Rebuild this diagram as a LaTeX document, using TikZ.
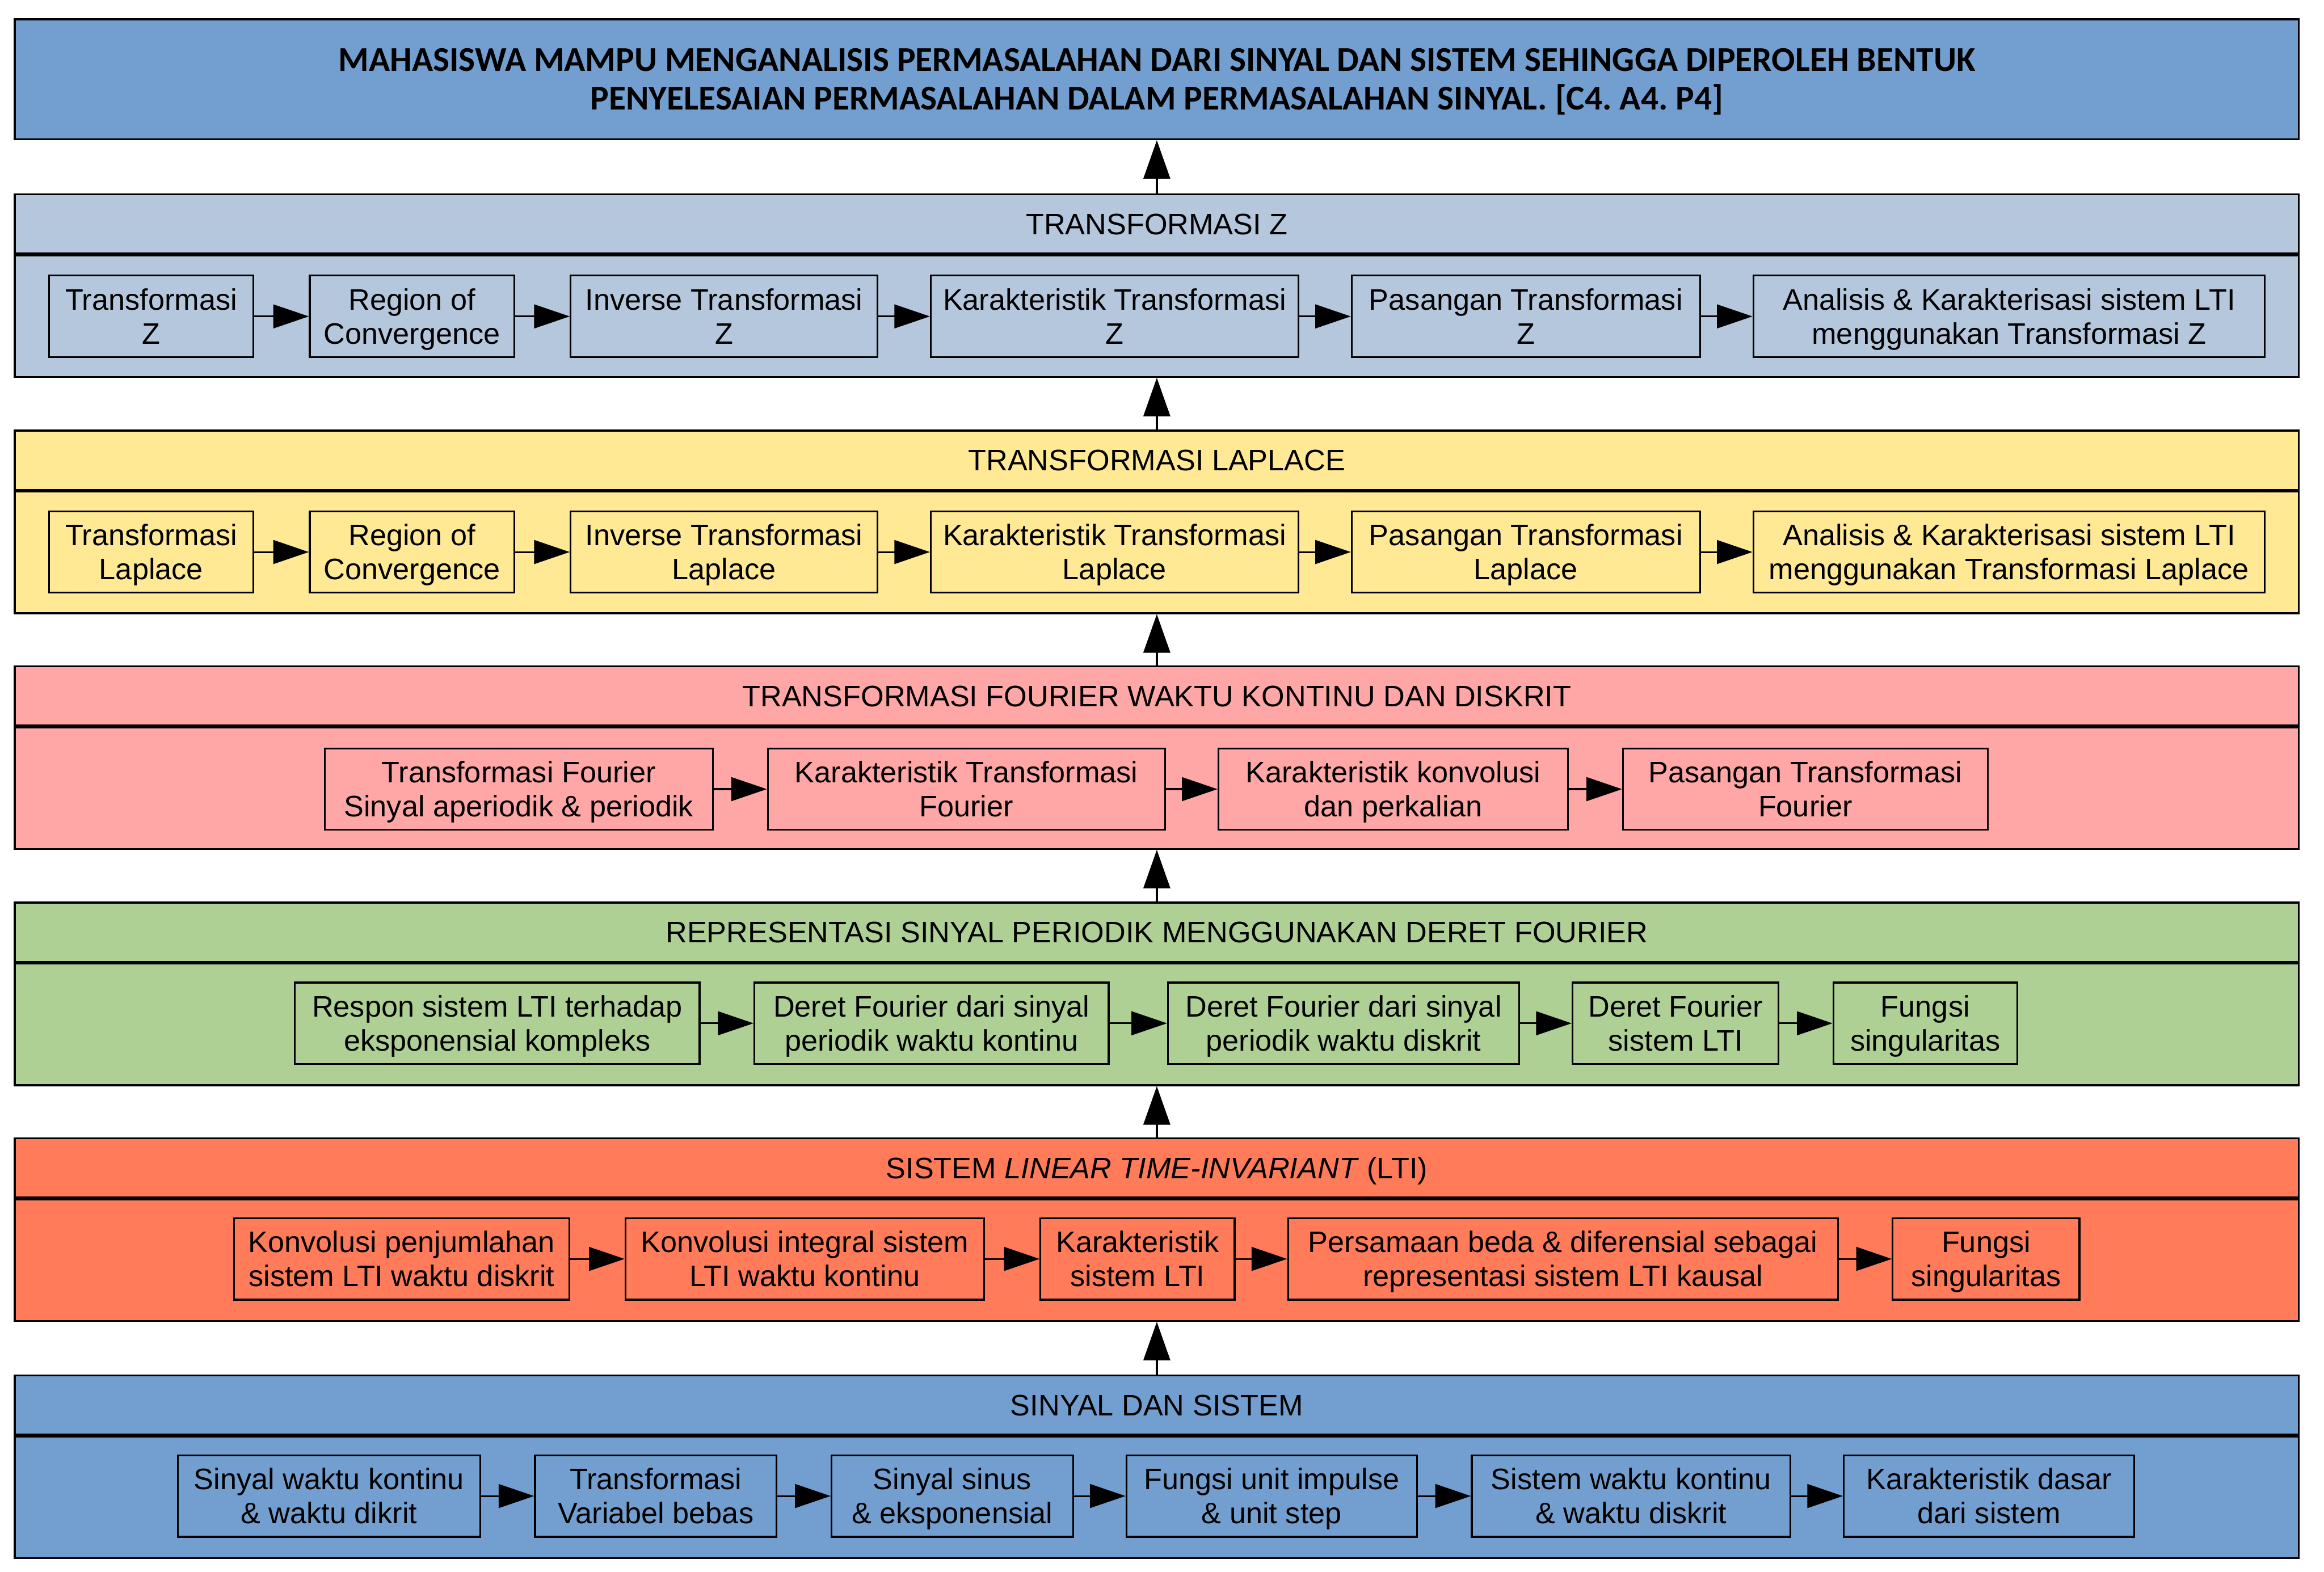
\documentclass[tikz,border=0pt]{standalone}
\usepackage{fontspec}
\setmainfont{Liberation Sans}
\newfontfamily\titlefont{Carlito}
\usetikzlibrary{arrows.meta}
\frenchspacing
\definecolor{cTitle}{HTML}{729FCF}
\definecolor{cZ}{HTML}{B4C7DC}
\definecolor{cL}{HTML}{FFE994}
\definecolor{cF}{HTML}{FFA6A6}
\definecolor{cG}{HTML}{AFD095}
\definecolor{cO}{HTML}{FF7B59}
\definecolor{cB}{HTML}{729FCF}
\tikzset{
  frame/.style={draw=black, line width=0.65pt, inner sep=0pt, minimum width=770.5pt},
  head/.style={frame, minimum height=20pt, text height=7.2pt, text depth=0pt, font=\fontsize{10}{11.5}\selectfont},
  body/.style={frame, minimum height=41pt},
  topic/.style={draw=black, line width=0.6pt, inner sep=0pt, minimum height=27.5pt, text height=18.7pt, text depth=0pt, align=center, font=\fontsize{10}{11.5}\selectfont},
  harrow/.style={line width=0.6pt, -{Triangle[length=12pt,width=8pt]}},
  varrow/.style={line width=0.65pt, -{Triangle[length=13pt,width=9pt]}}
}
\begin{document}
\begin{tikzpicture}[x=0.5pt,y=-0.5pt]
\useasboundingbox (0,0) rectangle (1568,1060.7);
% title
\node[frame, fill=cTitle, minimum height=40.5pt, align=center, text height=20.6pt, text depth=0pt, font=\titlefont\bfseries\fontsize{11.75}{13}\selectfont] (title) at (780.5,53.5)
  {MAHASISWA MAMPU MENGANALISIS PERMASALAHAN DARI SINYAL DAN SISTEM SEHINGGA DIPEROLEH BENTUK\\PENYELESAIAN PERMASALAHAN DALAM PERMASALAHAN SINYAL. [C4. A4. P4]};

% ---- Transformasi Z
\node[head, fill=cZ] (hZ) at (780.5,151) {TRANSFORMASI Z};
\node[body, fill=cZ, anchor=north] (bZ) at (hZ.south) {};
\node[topic, fill=cZ, minimum width=69pt] (z1) at (102,213.5) {Transformasi\\Z};
\node[topic, fill=cZ, minimum width=69pt] (z2) at (278,213.5) {Region of\\Convergence};
\node[topic, fill=cZ, minimum width=103.5pt] (z3) at (488.5,213.5) {Inverse Transformasi\\Z};
\node[topic, fill=cZ, minimum width=124pt] (z4) at (752,213.5) {Karakteristik Transformasi\\Z};
\node[topic, fill=cZ, minimum width=117.5pt] (z5) at (1029.5,213.5) {Pasangan Transformasi\\Z};
\node[topic, fill=cZ, minimum width=172.5pt] (z6) at (1355.5,213.5) {Analisis \& Karakterisasi sistem LTI\\menggunakan Transformasi Z};
\draw[harrow] (z1) -- (z2);
\draw[harrow] (z2) -- (z3);
\draw[harrow] (z3) -- (z4);
\draw[harrow] (z4) -- (z5);
\draw[harrow] (z5) -- (z6);

% ---- Transformasi Laplace
\node[head, fill=cL] (hL) at (780.5,310.5) {TRANSFORMASI LAPLACE};
\node[body, fill=cL, anchor=north] (bL) at (hL.south) {};
\node[topic, fill=cL, minimum width=69pt] (l1) at (102,372.5) {Transformasi\\Laplace};
\node[topic, fill=cL, minimum width=69pt] (l2) at (278,372.5) {Region of\\Convergence};
\node[topic, fill=cL, minimum width=103.5pt] (l3) at (488.5,372.5) {Inverse Transformasi\\Laplace};
\node[topic, fill=cL, minimum width=124pt] (l4) at (752,372.5) {Karakteristik Transformasi\\Laplace};
\node[topic, fill=cL, minimum width=117.5pt] (l5) at (1029.5,372.5) {Pasangan Transformasi\\Laplace};
\node[topic, fill=cL, minimum width=172.5pt] (l6) at (1355.5,372.5) {Analisis \& Karakterisasi sistem LTI\\menggunakan Transformasi Laplace};
\draw[harrow] (l1) -- (l2);
\draw[harrow] (l2) -- (l3);
\draw[harrow] (l3) -- (l4);
\draw[harrow] (l4) -- (l5);
\draw[harrow] (l5) -- (l6);

% ---- Transformasi Fourier
\node[head, fill=cF] (hF) at (780.5,469.5) {TRANSFORMASI FOURIER WAKTU KONTINU DAN DISKRIT};
\node[body, fill=cF, anchor=north] (bF) at (hF.south) {};
\node[topic, fill=cF, minimum width=131pt] (f1) at (350,532.5) {Transformasi Fourier\\Sinyal aperiodik \& periodik};
\node[topic, fill=cF, minimum width=134pt] (f2) at (652,532.5) {Karakteristik Transformasi\\Fourier};
\node[topic, fill=cF, minimum width=118pt] (f3) at (940,532.5) {Karakteristik konvolusi\\dan perkalian};
\node[topic, fill=cF, minimum width=123pt] (f4) at (1218,532.5) {Pasangan Transformasi\\Fourier};
\draw[harrow] (f1) -- (f2);
\draw[harrow] (f2) -- (f3);
\draw[harrow] (f3) -- (f4);

% ---- Deret Fourier
\node[head, fill=cG] (hG) at (780.5,629) {REPRESENTASI SINYAL PERIODIK MENGGUNAKAN DERET FOURIER};
\node[body, fill=cG, anchor=north] (bG) at (hG.south) {};
\node[topic, fill=cG, minimum width=136.5pt] (g1) at (335.5,690.5) {Respon sistem LTI terhadap\\eksponensial kompleks};
\node[topic, fill=cG, minimum width=119.5pt] (g2) at (628.5,690.5) {Deret Fourier dari sinyal\\periodik waktu kontinu};
\node[topic, fill=cG, minimum width=118.5pt] (g3) at (906.5,690.5) {Deret Fourier dari sinyal\\periodik waktu diskrit};
\node[topic, fill=cG, minimum width=69.5pt] (g4) at (1130.5,690.5) {Deret Fourier\\sistem LTI};
\node[topic, fill=cG, minimum width=62pt] (g5) at (1299,690.5) {Fungsi\\singularitas};
\draw[harrow] (g1) -- (g2);
\draw[harrow] (g2) -- (g3);
\draw[harrow] (g3) -- (g4);
\draw[harrow] (g4) -- (g5);

% ---- Sistem LTI
\node[head, fill=cO] (hO) at (780.5,788) {SISTEM \textit{LINEAR TIME-INVARIANT} (LTI)};
\node[body, fill=cO, anchor=north] (bO) at (hO.south) {};
\node[topic, fill=cO, minimum width=113pt] (o1) at (271,849.5) {Konvolusi penjumlahan\\sistem LTI waktu diskrit};
\node[topic, fill=cO, minimum width=121pt] (o2) at (543,849.5) {Konvolusi integral sistem\\LTI waktu kontinu};
\node[topic, fill=cO, minimum width=65.5pt] (o3) at (767.5,849.5) {Karakteristik\\sistem LTI};
\node[topic, fill=cO, minimum width=185.5pt] (o4) at (1054.5,849.5) {Persamaan beda \& diferensial sebagai\\representasi sistem LTI kausal};
\node[topic, fill=cO, minimum width=63pt] (o5) at (1340,849.5) {Fungsi\\singularitas};
\draw[harrow] (o1) -- (o2);
\draw[harrow] (o2) -- (o3);
\draw[harrow] (o3) -- (o4);
\draw[harrow] (o4) -- (o5);

% ---- Sinyal dan Sistem
\node[head, fill=cB] (hB) at (780.5,948) {SINYAL DAN SISTEM};
\node[body, fill=cB, anchor=north] (bB) at (hB.south) {};
\node[topic, fill=cB, minimum width=102pt] (s1) at (222,1009.5) {Sinyal waktu kontinu\\\& waktu dikrit};
\node[topic, fill=cB, minimum width=81.5pt] (s2) at (442.5,1009.5) {Transformasi\\Variabel bebas};
\node[topic, fill=cB, minimum width=81.5pt] (s3) at (642.5,1009.5) {Sinyal sinus\\\& eksponensial};
\node[topic, fill=cB, minimum width=98pt] (s4) at (858,1009.5) {Fungsi unit impulse\\\& unit step};
\node[topic, fill=cB, minimum width=107.5pt] (s5) at (1100.5,1009.5) {Sistem waktu kontinu\\\& waktu diskrit};
\node[topic, fill=cB, minimum width=98pt] (s6) at (1342,1009.5) {Karakteristik dasar\\dari sistem};
\draw[harrow] (s1) -- (s2);
\draw[harrow] (s2) -- (s3);
\draw[harrow] (s3) -- (s4);
\draw[harrow] (s4) -- (s5);
\draw[harrow] (s5) -- (s6);

% ---- vertical arrows
\draw[varrow] (hB.north) -- (bO.south);
\draw[varrow] (hO.north) -- (bG.south);
\draw[varrow] (hG.north) -- (bF.south);
\draw[varrow] (hF.north) -- (bL.south);
\draw[varrow] (hL.north) -- (bZ.south);
\draw[varrow] (hZ.north) -- (title.south);
\end{tikzpicture}
\end{document}
